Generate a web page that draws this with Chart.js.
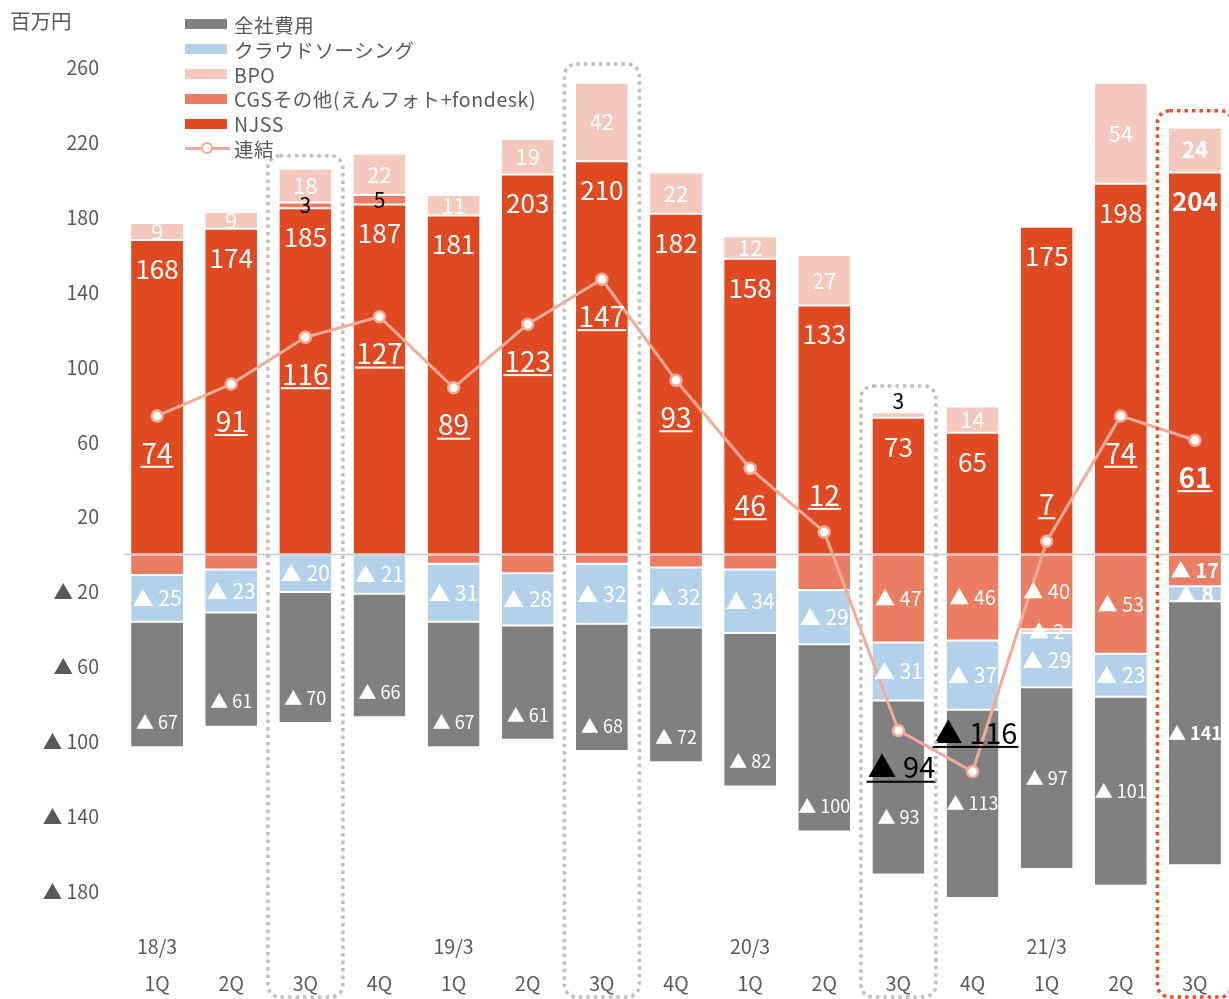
<!DOCTYPE html>
<html lang="ja">
<head>
<meta charset="utf-8">
<title>セグメント別損益推移</title>
<script src="https://cdn.jsdelivr.net/npm/chart.js@4.4.1/dist/chart.umd.min.js"></script>
<style>
  html, body { margin: 0; padding: 0; background: #fff; overflow: hidden; }
  #wrap { position: relative; width: 1240px; height: 999px; }
  #unit { position: absolute; left: 10px; top: 5px; font: 20.5px "Noto Sans CJK JP", sans-serif; color: #595959; }
  #legend { position: absolute; left: 185px; top: 12px; font: 19.5px "Noto Sans CJK JP", sans-serif; color: #595959; letter-spacing: 0.6px; }
  .item { height: 24.8px; display: flex; align-items: center; white-space: nowrap; }
  .sw { width: 42px; height: 10px; margin-right: 7px; }
  .ln { position: relative; width: 45px; height: 12px; margin-right: 4px; }
  .ln::before { content: ""; position: absolute; left: 0; right: 0; top: 5px; height: 3px; background: #F4AA98; }
  .ln::after { content: ""; position: absolute; left: 16px; top: 0; width: 8px; height: 8px; border: 2px solid #F4AA98; border-radius: 50%; background: #fff; }
</style>
</head>
<body>
<div id="wrap">
  <canvas id="chart" width="1240" height="999"></canvas>
  <div id="unit">百万円</div>
  <div id="legend"></div>
</div>
<script>
// ===== DATA (百万円) =====
const QUARTERS = ["1Q", "2Q", "3Q", "4Q", "1Q", "2Q", "3Q", "4Q", "1Q", "2Q", "3Q", "4Q", "1Q", "2Q", "3Q"];
const YEARS = ["18/3", "", "", "", "19/3", "", "", "", "20/3", "", "", "", "21/3", "", ""];

const NJSS = [168, 174, 185, 187, 181, 203, 210, 182, 158, 133, 73, 65, 175, 198, 204];
const CGS = [-11, -8, 3, 5, -5, -10, -5, -7, -8, -19, -47, -46, -40, -53, -17];
const BPO = [9, 9, 18, 22, 11, 19, 42, 22, 12, 27, 3, 14, -2, 54, 24];
const CLOUD = [-25, -23, -20, -21, -31, -28, -32, -32, -34, -29, -31, -37, -29, -23, -8];
const COST = [-67, -61, -70, -66, -67, -61, -68, -72, -82, -100, -93, -113, -97, -101, -141];
const TOTAL = [74, 91, 116, 127, 89, 123, 147, 93, 46, 12, -94, -116, 7, 74, 61];

const Y_TICKS = [260, 220, 180, 140, 100, 60, 20, -20, -60, -100, -140, -180];

// ===== STYLE =====
const FONT = '"Noto Sans CJK JP", "Noto Sans", sans-serif';
const GRAY_TEXT = "#595959";
const C_NJSS = "#E04A23";
const C_CGS = "#EB7D63";
const C_BPO = "#F5C8BD";
const C_CLOUD = "#B4D1EB";
const C_COST = "#808080";
const C_LINE = "#F4AA98";

const LATEST = 14;                          // bold labels for the latest quarter
const CGS_NEG_LABELED = [10, 11, 12, 13, 14];
const LINE_LABEL_ABOVE = [9, 11, 12];
const COST_LABEL_LIFT = [25, 25, 25, 25, 25, 25, 25, 25, 25, 25, 57, null, null, null, null]; // null = centered

// dotted highlight frames: category index, top value, colour
const FRAMES = [
  { index: 2, top: 213, color: "#BFBFBF" },
  { index: 6, top: 262, color: "#BFBFBF" },
  { index: 10, top: 90, color: "#BFBFBF" },
  { index: 14, top: 237, color: "#E0502A" }
];

Chart.defaults.font.family = FONT;

const fmt = v => (v < 0 ? "▲ " + Math.abs(v) : String(v));

function drawText(ctx, str, x, y, size, color, bold, underline) {
  ctx.font = (bold ? "bold " : "") + size + "px " + FONT;
  ctx.fillStyle = color;
  ctx.fillText(str, x, y);
  if (underline) {
    const w = ctx.measureText(str).width;
    ctx.fillRect(x - w / 2 - 1, y + size * 0.46, w + 2, 2);
  }
}

// ===== PLUGINS =====
const zeroLine = {
  id: "zeroLine",
  beforeDatasetDraw(chart, args) {
    if (args.meta.type !== "line") return;
    const { ctx, chartArea } = chart;
    const y = chart.scales.y.getPixelForValue(0);
    ctx.save();
    ctx.strokeStyle = "#C8C8C8";
    ctx.lineWidth = 1.5;
    ctx.beginPath();
    ctx.moveTo(chartArea.left + 4, y);
    ctx.lineTo(chartArea.right, y);
    ctx.stroke();
    ctx.restore();
  }
};

const frames = {
  id: "frames",
  afterDraw(chart) {
    const { ctx } = chart;
    const xs = chart.scales.x, ys = chart.scales.y;
    ctx.save();
    FRAMES.forEach(f => {
      const cx = xs.getPixelForValue(f.index);
      const top = ys.getPixelForValue(f.top);
      ctx.strokeStyle = f.color;
      ctx.lineWidth = 3.5;
      ctx.setLineDash([3.5, 4]);
      ctx.beginPath();
      ctx.roundRect(cx - 37.5, top, 75, chart.height - 2 - top, 12);
      ctx.stroke();
    });
    ctx.restore();
  }
};

const labels = {
  id: "labels",
  afterDatasetsDraw(chart) {
    const { ctx, chartArea } = chart;
    ctx.save();
    ctx.textAlign = "center";
    ctx.textBaseline = "middle";

    chart.data.datasets.forEach((ds, di) => {
      const meta = chart.getDatasetMeta(di);
      meta.data.forEach((el, i) => {
        const v = ds.data[i];
        const bold = i === LATEST;
        const x = el.x;

        if (ds.key === "total") {
          if (v < 0) {
            const y = LINE_LABEL_ABOVE.includes(i) ? el.y - 39 : el.y + 37;
            drawText(ctx, fmt(v), x + 3, y, 29, "#000", false, true);
          } else {
            const y = LINE_LABEL_ABOVE.includes(i) ? el.y - 37 : el.y + 37;
            drawText(ctx, fmt(v), x, y, 28, "#fff", bold, true);
          }
          return;
        }
        if (!v) return;

        const top = Math.max(Math.min(el.y, el.base), chartArea.top);
        const bottom = Math.min(Math.max(el.y, el.base), chartArea.bottom);
        const mid = (top + bottom) / 2;

        if (ds.key === "njss") {
          drawText(ctx, fmt(v), x, top + 29, 26, "#fff", bold);
        } else if (ds.key === "cgs") {
          if (v > 0) drawText(ctx, fmt(v), x, mid, 21, "#000", false);
          else if (CGS_NEG_LABELED.includes(i)) drawText(ctx, fmt(v), x, mid, 20, "#fff", bold);
        } else if (ds.key === "bpo") {
          if (v < 0) drawText(ctx, fmt(v), x, mid, 20, "#fff", bold);
          else if (bottom - top < 12) drawText(ctx, fmt(v), x, top - 11, 21, "#000", false);
          else drawText(ctx, fmt(v), x, mid, 22, "#fff", bold);
        } else if (ds.key === "cloud") {
          drawText(ctx, fmt(v), x, mid, 21, "#fff", bold);
        } else if (ds.key === "cost") {
          const lift = COST_LABEL_LIFT[i];
          const y = lift == null ? mid : bottom - lift;
          drawText(ctx, fmt(v), x, y, 18, "#fff", bold);
        }
      });
    });
    ctx.restore();
  }
};

// ===== CHART =====
const barStyle = {
  type: "bar",
  order: 1,
  borderColor: "#fff",
  borderWidth: { top: 1, bottom: 1, left: 0, right: 0 },
  borderSkipped: false,
  barPercentage: 0.7,
  categoryPercentage: 1
};

new Chart(document.getElementById("chart"), {
  data: {
    labels: QUARTERS.map((q, i) => [YEARS[i], q]),
    datasets: [
      {
        key: "total", label: "連結", type: "line", order: 0, data: TOTAL,
        borderColor: C_LINE, borderWidth: 3, tension: 0,
        pointRadius: 5.5, pointBackgroundColor: "#fff",
        pointBorderColor: C_LINE, pointBorderWidth: 2.5
      },
      { ...barStyle, key: "njss", label: "NJSS", data: NJSS, backgroundColor: C_NJSS },
      { ...barStyle, key: "cgs", label: "CGSその他(えんフォト+fondesk)", data: CGS, backgroundColor: C_CGS },
      { ...barStyle, key: "bpo", label: "BPO", data: BPO, backgroundColor: C_BPO },
      { ...barStyle, key: "cloud", label: "クラウドソーシング", data: CLOUD, backgroundColor: C_CLOUD },
      { ...barStyle, key: "cost", label: "全社費用", data: COST, backgroundColor: C_COST }
    ]
  },
  options: {
    responsive: false,
    animation: false,
    layout: { padding: { top: 64, right: 3, bottom: 0, left: 0 } },
    plugins: { legend: { display: false }, tooltip: { enabled: false } },
    scales: {
      x: {
        stacked: true,
        grid: { display: false, drawTicks: false },
        border: { display: false },
        ticks: {
          color: GRAY_TEXT, font: { size: 19.5, lineHeight: 1.85 },
          padding: 32, autoSkip: false, maxRotation: 0
        },
        afterFit: s => { s.height = 102; }
      },
      y: {
        stacked: true,
        min: -183,
        max: 262,
        grid: { display: false, drawTicks: false },
        border: { display: false },
        ticks: { color: GRAY_TEXT, font: { size: 19.5 }, padding: 21, callback: v => fmt(v) },
        afterBuildTicks: s => { s.ticks = Y_TICKS.map(v => ({ value: v })); },
        afterFit: s => { s.width = 120; }
      }
    }
  },
  plugins: [zeroLine, frames, labels]
});

// ===== LEGEND =====
const legendItems = [
  ["全社費用", C_COST], ["クラウドソーシング", C_CLOUD], ["BPO", C_BPO],
  ["CGSその他(えんフォト+fondesk)", C_CGS], ["NJSS", C_NJSS], ["連結", null]
];
document.getElementById("legend").innerHTML = legendItems.map(([name, color]) =>
  '<div class="item">' +
  (color ? '<span class="sw" style="background:' + color + '"></span>' : '<span class="ln"></span>') +
  '<span>' + name + '</span></div>'
).join("");
</script>
</body>
</html>
